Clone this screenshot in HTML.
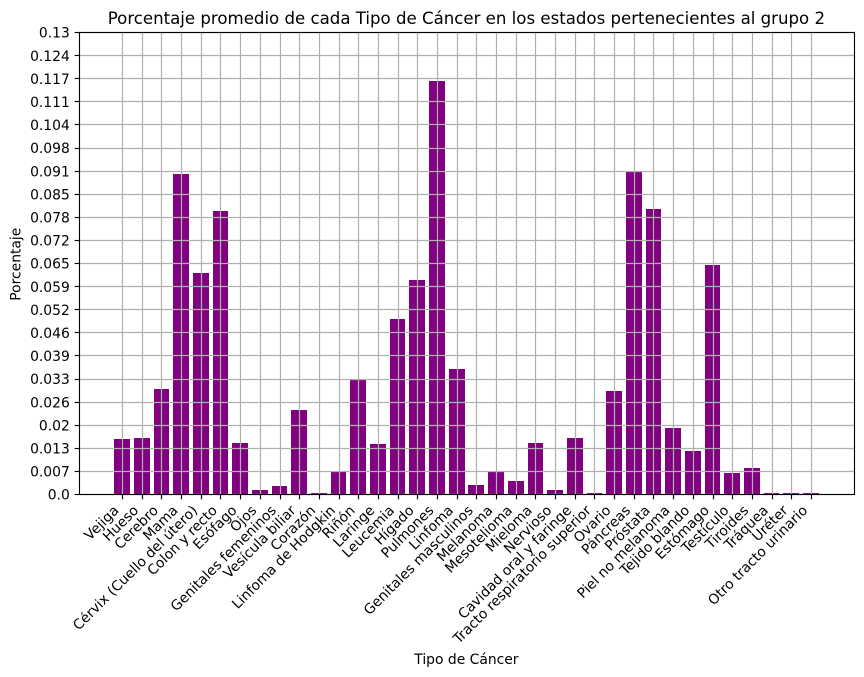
<!DOCTYPE html>
<html>
<head>
<meta charset="utf-8">
<style>
html,body{margin:0;padding:0;background:#fff;}
svg{display:block;}
text{font-family:"DejaVu Sans","Liberation Sans",sans-serif;fill:#000;}
</style>
</head>
<body>
<svg id="chart" width="864" height="677" viewBox="0 0 864 677" xmlns="http://www.w3.org/2000/svg">
<text x="466.4" y="24" font-size="16.6" text-anchor="middle">Porcentaje promedio de cada Tipo de Cáncer en los estados pertenecientes al grupo 2</text>
<text x="466.4" y="664" font-size="13.89" text-anchor="middle">Tipo de Cáncer</text>
<text transform="translate(20.5,264.2) rotate(-90)" font-size="13.89" text-anchor="middle">Porcentaje</text>
<g id="bars"></g>
<g id="grid"></g>
<g id="axes"></g>
</svg>
<script>
const categories = ["Vejiga","Hueso","Cerebro","Mama","Cérvix (Cuello del útero)","Colon y recto","Esófago","Ojos","Genitales femeninos","Vesícula biliar","Corazón","Linfoma de Hodgkin","Riñón","Laringe","Leucemia","Hígado","Pulmones","Linfoma","Genitales masculinos","Melanoma","Mesotelioma","Mieloma","Nervioso","Cavidad oral y faringe","Tracto respiratorio superior","Ovario","Páncreas","Próstata","Piel no melanoma","Tejido blando","Estómago","Testículo","Tiroides","Tráquea","Uréter","Otro tracto urinario"];
const values = [0.0155,0.0158,0.0296,0.0901,0.0623,0.0797,0.0144,0.0012,0.0023,0.0237,0.0003,0.0064,0.0321,0.0141,0.0493,0.0603,0.1163,0.0352,0.0027,0.0064,0.0037,0.0144,0.0012,0.0158,0.0003,0.029,0.0907,0.0803,0.0186,0.0123,0.0645,0.006,0.0075,0.0003,0.0003,0.0003];
const yTickValues = [0,0.0065,0.013,0.0195,0.026,0.0325,0.039,0.0455,0.052,0.0585,0.065,0.0715,0.078,0.0845,0.091,0.0975,0.104,0.1105,0.117,0.1235,0.13];
const yTickLabels = ["0.0","0.007","0.013","0.02","0.026","0.033","0.039","0.046","0.052","0.059","0.065","0.072","0.078","0.085","0.091","0.098","0.104","0.111","0.117","0.124","0.13"];

const NS = "http://www.w3.org/2000/svg";
const plotLeft = 79.5, plotRight = 854.5, plotTop = 32.5, plotBottom = 494.5;
const yMax = 0.13;
const barWidthFrac = 0.8;
function xDomainMin(){ return -barWidthFrac/2 - 0.05*(categories.length-1+barWidthFrac); }
function xDomainMax(){ return categories.length-1+barWidthFrac/2 + 0.05*(categories.length-1+barWidthFrac); }
function xScale(i){ return plotLeft + (i-xDomainMin())/(xDomainMax()-xDomainMin())*(plotRight-plotLeft); }
function yScale(v){ return plotBottom - v/yMax*(plotBottom-plotTop); }
function make(tag, attrs, parent){
  const el = document.createElementNS(NS, tag);
  for (const k in attrs) el.setAttribute(k, attrs[k]);
  parent.appendChild(el);
  return el;
}
const barsG = document.getElementById("bars");
const gridG = document.getElementById("grid");
const axesG = document.getElementById("axes");

categories.forEach(function(name, i){
  const x0 = Math.floor(xScale(i-barWidthFrac/2));
  const x1 = Math.floor(xScale(i+barWidthFrac/2));
  const yT = Math.round(yScale(values[i]));
  const bar = make("rect", {x:x0, y:yT, width:x1-x0, height:Math.max(494-yT,0), fill:"#800080"}, barsG);
  
  

  const px = Math.floor(xScale(i))+0.5;
  const gl = make("line", {x1:px, x2:px, y1:plotTop, y2:plotBottom, stroke:"#b0b0b0", "stroke-width":1.2}, gridG);
  
  

  const tick = make("line", {x1:px, x2:px, y1:plotBottom, y2:plotBottom+4.86, stroke:"#000", "stroke-width":1.11}, axesG);
  
  

  const ax = xScale(i)-3, ay = plotBottom+4.86+4.86+7;
  const lab = make("text", {transform:"translate("+ax+","+ay+") rotate(-45)", "font-size":13.89, "text-anchor":"end"}, axesG);
  
  
  lab.textContent = name;
});

yTickValues.forEach(function(v, i){
  const py = Math.floor(yScale(v))+0.5;
  const gl = make("line", {x1:plotLeft, x2:plotRight, y1:py, y2:py, stroke:"#b0b0b0", "stroke-width":1.2}, gridG);
  
  

  const tick = make("line", {x1:plotLeft-4.86, x2:plotLeft, y1:py, y2:py, stroke:"#000", "stroke-width":1.11}, axesG);
  
  

  const lab = make("text", {x:plotLeft-9.7, y:yScale(v)+5.2, "font-size":13.89, "text-anchor":"end"}, axesG);
  
  
  lab.textContent = yTickLabels[i];
});

const frame = make("rect", {x:plotLeft, y:plotTop, width:plotRight-plotLeft, height:plotBottom-plotTop, fill:"none", stroke:"#000", "stroke-width":1.11}, axesG);


</script>
</body>
</html>
